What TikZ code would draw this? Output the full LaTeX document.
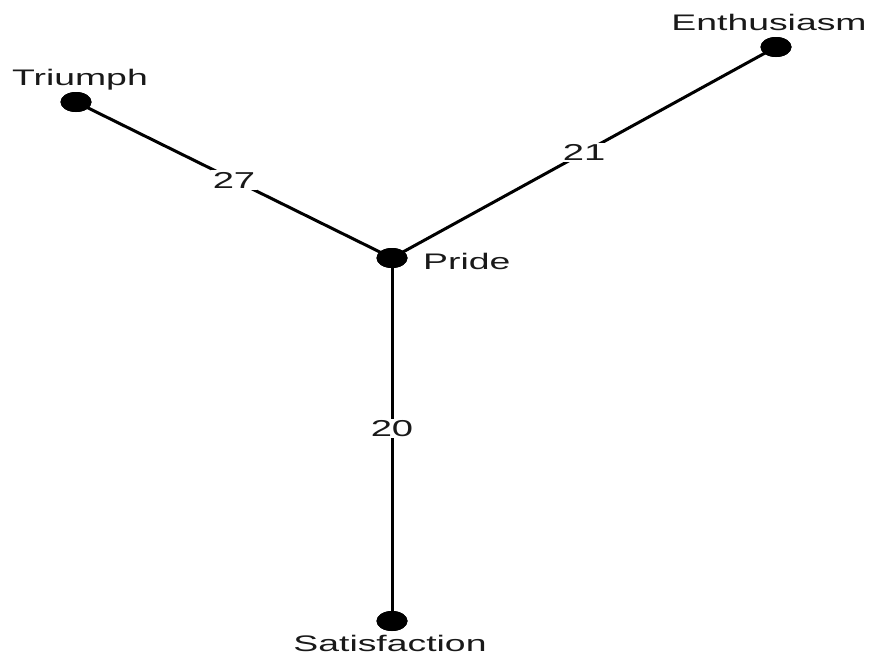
\documentclass[tikz,border=0pt]{standalone}
\usepackage{graphicx}
\usepackage{fontspec}
\setmainfont{Liberation Sans}
\usetikzlibrary{shapes.geometric}
\newcommand{\wtxt}[1]{\scalebox{1.66}[1]{#1}}
\begin{document}
\begin{tikzpicture}[x=1pt,y=-1pt,
  dot/.style={ellipse,fill=black,draw=none,minimum width=31pt,minimum height=20pt,inner sep=0pt},
  lbl/.style={font=\fontsize{22.5}{24}\selectfont,text=black!90,inner sep=0pt,anchor=base},
  elbl/.style={font=\fontsize{23}{25}\selectfont,text=black!90,fill=white,inner sep=1.5pt},
  edge/.style={line width=3pt,black}]
\useasboundingbox (0,0) rectangle (875,657);
\node[dot] (tri) at (76,102) {};
\node[dot] (ent) at (776,47) {};
\node[dot] (pri) at (392,258) {};
\node[dot] (sat) at (392,621) {};
\draw[edge] (tri.center) -- node[elbl] (l27) {\wtxt{27}} (pri.center);
\draw[edge] (pri.center) -- node[elbl] (l21) {\wtxt{21}} (ent.center);
\draw[edge] (pri.center) -- node[elbl,pos=0.47] (l20) {\wtxt{20}} (sat.center);
\node[dot] at (tri) {};
\node[dot] at (ent) {};
\node[dot] at (pri) {};
\node[dot] at (sat) {};
\node[lbl] (ttri) at (80,85) {\wtxt{Triumph}};
\node[lbl] (tent) at (769,30) {\wtxt{Enthusiasm}};
\node[lbl,anchor=base west] (tpri) at (423,269) {\wtxt{Pride}};
\node[lbl] (tsat) at (390,651) {\wtxt{Satisfaction}};
\end{tikzpicture}
\end{document}
